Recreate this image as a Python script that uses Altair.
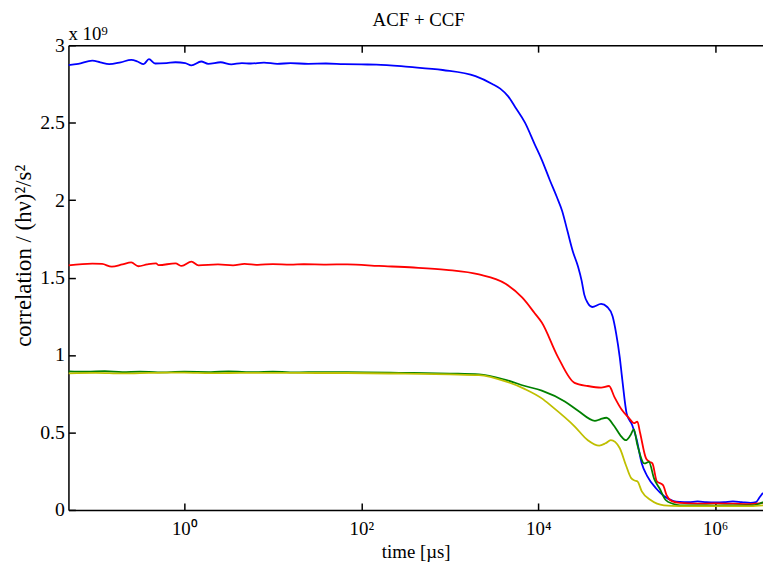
import altair as alt
import pandas as pd

# ---------------- data (log10 of time in µs, correlation in units of 1e9) ----------------
blue_log_t = [-1.31, -1.2, -1.04, -0.95, -0.85, -0.72, -0.6, -0.53, -0.46, -0.40, -0.33, -0.2, -0.1,
              0.01, 0.08, 0.19, 0.27, 0.41, 0.53, 0.65, 0.75, 0.9, 1.05, 1.2, 1.4, 1.6, 1.8, 2.0, 2.17,
              2.54, 2.92, 3.29, 3.48, 3.57, 3.66, 3.74, 3.85, 3.96, 4.04, 4.13, 4.21, 4.27, 4.33, 4.39, 4.45,
              4.49, 4.52, 4.56, 4.61, 4.71, 4.78, 4.84, 4.88, 4.92, 4.95, 5.0, 5.06, 5.11, 5.17, 5.23,
              5.33, 5.42, 5.53, 5.6, 5.7, 5.8, 5.9, 6.0, 6.1, 6.2, 6.3, 6.4, 6.46, 6.5, 6.54]
blue_val = [2.872, 2.88, 2.90, 2.89, 2.878, 2.89, 2.905, 2.895, 2.878, 2.91, 2.882, 2.885, 2.89,
            2.885, 2.87, 2.895, 2.88, 2.89, 2.877, 2.885, 2.882, 2.888, 2.88, 2.884, 2.88, 2.882, 2.878, 2.876, 2.875,
            2.86, 2.84, 2.80, 2.75, 2.72, 2.67, 2.60, 2.50, 2.36, 2.26, 2.13, 2.02, 1.93, 1.80, 1.67, 1.57,
            1.48, 1.39, 1.335, 1.31, 1.33, 1.31, 1.25, 1.14, 0.99, 0.84, 0.62, 0.55, 0.46, 0.30, 0.22,
            0.14, 0.09, 0.057, 0.052, 0.05, 0.055, 0.05, 0.048, 0.05, 0.055, 0.05, 0.045, 0.05, 0.08, 0.11]

red_log_t = [-1.31, -1.04, -0.93, -0.82, -0.7, -0.6, -0.52, -0.42, -0.32, -0.29, -0.1, -0.03, 0.08,
             0.16, 0.38, 0.55, 0.68, 0.83, 1.0, 1.2, 1.35, 1.6, 1.84, 2.2, 2.59, 2.96, 3.33, 3.63, 3.82,
             3.96, 4.04, 4.22, 4.41, 4.56, 4.71, 4.80, 4.86, 4.94, 5.03, 5.08, 5.12, 5.15, 5.22, 5.26,
             5.29, 5.34, 5.41, 5.45, 5.51, 5.6, 5.8, 6.0, 6.2, 6.4, 6.54]
red_val = [1.578, 1.59, 1.588, 1.57, 1.585, 1.598, 1.573, 1.585, 1.592, 1.58, 1.592, 1.575, 1.603,
           1.579, 1.585, 1.579, 1.589, 1.582, 1.587, 1.583, 1.586, 1.584, 1.585, 1.575, 1.565, 1.55, 1.52, 1.46, 1.37,
           1.27, 1.21, 0.99, 0.82, 0.80, 0.79, 0.80, 0.73, 0.65, 0.59, 0.56, 0.57, 0.50, 0.33, 0.31,
           0.30, 0.185, 0.16, 0.096, 0.057, 0.045, 0.04, 0.042, 0.04, 0.038, 0.045]

green_log_t = [-1.31, -1.1, -0.9, -0.7, -0.5, -0.3, 0.0, 0.3, 0.5, 0.8, 1.0, 1.3, 1.5, 1.84, 2.5,
               3.0, 3.33, 3.63, 3.85, 4.04, 4.30, 4.45, 4.64, 4.70, 4.77, 4.86, 4.93, 4.99, 5.04,
               5.08, 5.12, 5.20, 5.25, 5.31, 5.37, 5.44, 5.52, 5.6, 5.8, 6.0, 6.2, 6.4, 6.5, 6.54]
green_val = [0.895, 0.892, 0.896, 0.89, 0.893, 0.888, 0.892, 0.89, 0.894, 0.889, 0.892, 0.888, 0.89, 0.89, 0.885,
             0.88, 0.875, 0.84, 0.80, 0.77, 0.70, 0.64, 0.575, 0.585, 0.595, 0.54, 0.48, 0.45, 0.48,
             0.52, 0.42, 0.30, 0.31, 0.20, 0.14, 0.064, 0.04, 0.03, 0.03, 0.028, 0.03, 0.03, 0.04, 0.05]

yellow_log_t = [-1.31, -1.0, -0.7, -0.5, -0.2, 0.0, 0.3, 0.5, 1.0, 1.5, 1.84, 2.5, 3.0, 3.33, 3.63,
                3.85, 4.04, 4.15, 4.41, 4.56, 4.69, 4.76, 4.82, 4.92, 4.99, 5.05, 5.09, 5.12, 5.17,
                5.27, 5.42, 5.6, 5.8, 6.0, 6.2, 6.4, 6.54]
yellow_val = [0.882, 0.885, 0.881, 0.883, 0.886, 0.886, 0.883, 0.884, 0.885, 0.884, 0.884, 0.88, 0.875, 0.87, 0.83,
              0.78, 0.72, 0.67, 0.54, 0.45, 0.415, 0.43, 0.45, 0.40, 0.29, 0.205, 0.19, 0.185, 0.12,
              0.064, 0.03, 0.025, 0.025, 0.024, 0.025, 0.025, 0.03]

series_names = ["blue", "red", "green", "yellow"]
series_colors = ["#0000ff", "#ff0000", "#008000", "#bfbf00"]

x_tick_values = [1, 100, 10000, 1000000]
x_tick_labels = ["10⁰", "10²", "10⁴", "10⁶"]
y_tick_values = [0, 0.5, 1, 1.5, 2, 2.5, 3]

T_MIN = 10 ** -1.31
T_MAX = 10 ** 6.54

rows = []
for name, lt, vals in [("blue", blue_log_t, blue_val), ("red", red_log_t, red_val),
                       ("green", green_log_t, green_val), ("yellow", yellow_log_t, yellow_val)]:
    for a, b in zip(lt, vals):
        rows.append({"t": 10 ** a, "v": b, "series": name})
df = pd.DataFrame(rows)

W, H = 701, 469
FONT = "Liberation Serif"

label_expr = " : ".join(f"datum.value == {v} ? '{l}'" for v, l in zip(x_tick_values, x_tick_labels)) + " : ''"

xscale = alt.Scale(type="log", domain=[T_MIN, T_MAX], nice=False)
yscale = alt.Scale(domain=[0, 3], nice=False)
cscale = alt.Scale(domain=series_names, range=series_colors)

base = alt.Chart(df)

lines = base.mark_line(strokeWidth=1.8, clip=True, interpolate="monotone").encode(
    x=alt.X("t:Q", scale=xscale, axis=alt.Axis(
        orient="bottom", values=x_tick_values, labelExpr=label_expr, ticks=False,
        domain=True, domainColor="black", domainWidth=1.5, grid=False,
        labelFont=FONT, labelFontSize=19, labelColor="black", labelPadding=10,
        title="time [µs]", titleFont=FONT, titleFontSize=19, titleFontWeight="normal",
        titleColor="black", titlePadding=4)),
    y=alt.Y("v:Q", scale=yscale, axis=alt.Axis(
        orient="left", values=y_tick_values, format=".1~f", ticks=False,
        domain=True, domainColor="black", domainWidth=1.5, grid=False,
        labelFont=FONT, labelFontSize=20, labelColor="black", labelPadding=4,
        title="correlation / (hν)²/s²", titleFont=FONT, titleFontSize=23,
        titleFontWeight="normal", titleColor="black", titleX=-33, titleY=212,
        titleAngle=270, titleBaseline="bottom", titleAlign="center")),
    color=alt.Color("series:N", scale=cscale, legend=None),
)

ticks_in_a = base.mark_line(opacity=0).encode(
    x=alt.X("t:Q", scale=xscale, axis=alt.Axis(
        orient="top", offset=-H, values=x_tick_values, labels=False, domain=False,
        ticks=True, tickSize=7, tickWidth=1.5, tickColor="black", grid=False, title=None)),
    y=alt.Y("v:Q", scale=yscale, axis=alt.Axis(
        orient="right", offset=-W, values=y_tick_values, labels=False, domain=False,
        ticks=True, tickSize=7, tickWidth=1.5, tickColor="black", grid=False, title=None)),
)

ticks_in_b = base.mark_line(opacity=0).encode(
    x=alt.X("t:Q", scale=xscale, axis=alt.Axis(
        orient="bottom", offset=-H, values=x_tick_values, labels=False, domain=True,
        domainColor="black", domainWidth=1.5,
        ticks=True, tickSize=7, tickWidth=1.5, tickColor="black", grid=False, title=None)),
    y=alt.Y("v:Q", scale=yscale, axis=None),
)

title_text = alt.Chart(pd.DataFrame({"label": ["ACF + CCF"]})).mark_text(
    font=FONT, fontSize=19, color="black", align="center", baseline="alphabetic"
).encode(text="label:N", x=alt.value(W / 2 + 3), y=alt.value(-19))

exp_text = alt.Chart(pd.DataFrame({"label": ["x 10⁹"]})).mark_text(
    font=FONT, fontSize=19, color="black", align="left", baseline="alphabetic"
).encode(text="label:N", x=alt.value(0), y=alt.value(-5))

chart = alt.layer(lines, ticks_in_a, ticks_in_b, title_text, exp_text).resolve_axis(
    x="independent", y="independent"
).properties(
    width=W, height=H,
    autosize=alt.AutoSizeParams(type="none"),
    padding={"left": 61, "top": 35, "right": 0, "bottom": 50},
).configure_view(stroke=None).configure(background="white")

chart.save("out.html", embed_options={"renderer": "svg", "actions": False})
